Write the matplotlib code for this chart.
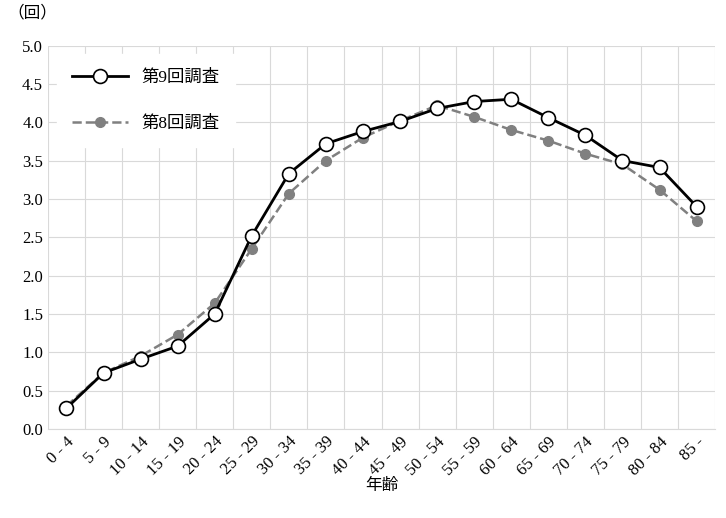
import matplotlib
matplotlib.use("Agg")
import matplotlib.pyplot as plt
import numpy as np

plt.rcParams['font.family'] = ['Liberation Serif', 'Noto Sans CJK JP']

ages = ["0 - 4", "5 - 9", "10 - 14", "15 - 19", "20 - 24", "25 - 29", "30 - 34",
        "35 - 39", "40 - 44", "45 - 49", "50 - 54", "55 - 59", "60 - 64",
        "65 - 69", "70 - 74", "75 - 79", "80 - 84", "85 -"]
survey9 = [0.27, 0.73, 0.91, 1.08, 1.50, 2.52, 3.33, 3.72, 3.88, 4.01, 4.18,
           4.27, 4.30, 4.06, 3.83, 3.50, 3.41, 2.90]
survey8 = [0.30, 0.73, 0.95, 1.23, 1.64, 2.35, 3.07, 3.50, 3.80, 4.02, 4.22,
           4.07, 3.90, 3.76, 3.59, 3.45, 3.12, 2.71]

fig = plt.figure(figsize=(7.26, 5.18), dpi=100)
ax = fig.add_axes([0.066, 0.172, 0.919, 0.74])
x = np.arange(len(ages))

for b in np.arange(-0.5, len(ages), 1.0):
    ax.axvline(b, color="#d9d9d9", lw=0.8, zorder=0)
ax.grid(axis="y", color="#d9d9d9", lw=0.8, zorder=0)
ax.set_axisbelow(True)

ax.plot(x, survey9, color="black", lw=2, marker="o", ms=10, mfc="white",
        mec="black", mew=1.2, label="第9回調査", zorder=3)
ax.plot(x, survey8, color="#808080", lw=1.8, ls="--", marker="o", ms=7,
        mfc="#808080", mec="#808080", label="第8回調査", zorder=2)

ax.set_xlim(-0.5, len(ages) - 0.5)
ax.set_ylim(0, 5)
ax.set_yticks(np.arange(0, 5.01, 0.5))
ax.set_yticklabels([f"{v:.1f}" for v in np.arange(0, 5.01, 0.5)], fontsize=12)
ax.set_xticks(x)
ax.set_xticklabels(ages, rotation=45, ha="right", rotation_mode="anchor", fontsize=12)
ax.tick_params(length=0)
for s in ("top", "right", "left"):
    ax.spines[s].set_visible(False)
ax.spines["bottom"].set_color("#d9d9d9")
ax.set_xlabel("年齢", fontsize=12, labelpad=0)
fig.text(0.01, 0.975, "（回）", fontsize=12, va="center")

leg = ax.legend(loc="upper left", bbox_to_anchor=(0.0, 1.0), fontsize=12.5,
                frameon=True, fancybox=False, edgecolor="white", framealpha=1,
                handlelength=3.2, labelspacing=1.7, borderpad=0.9)
fig.savefig("out.png", dpi=100)
